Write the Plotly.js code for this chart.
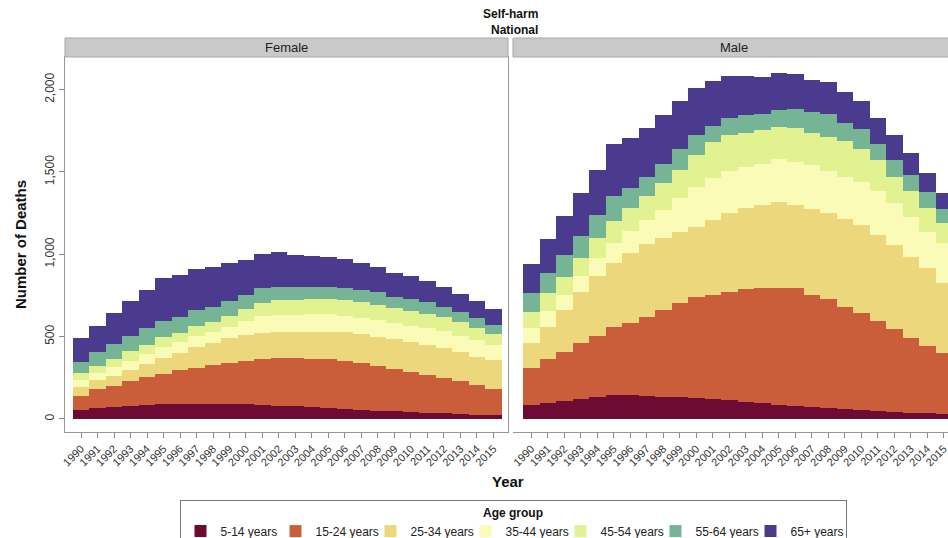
<!DOCTYPE html>
<html>
<head>
<meta charset="utf-8">
<script src="https://cdn.plot.ly/plotly-3.0.1.min.js"></script>
<style>
html, body { margin:0; padding:0; overflow:hidden; background:#fff; }
#chart { width:960px; height:538px; }
</style>
</head>
<body>
<div id="chart"></div>
<script>
const years = [1990,1991,1992,1993,1994,1995,1996,1997,1998,1999,2000,2001,2002,2003,2004,2005,2006,2007,2008,2009,2010,2011,2012,2013,2014,2015];
const ageGroups = ["5-14 years","15-24 years","25-34 years","35-44 years","45-54 years","55-64 years","65+ years"];
const colors = ["#6d0b34","#cb5e3a","#ecd77d","#fbfbb8","#e3f290","#75b596","#4b3b8e"];

// Female deaths by age group
const f5_14  = [55,65,71,77,85,89,92,93,93,92,89,85,81,77,71,65,61,55,51,47,43,38,34,30,26,24];
const f15_24 = [87,115,131,151,170,186,203,219,235,250,263,280,287,291,295,299,291,283,273,257,244,229,217,201,180,158];
const f25_34 = [54,57,58,70,80,95,105,123,132,148,158,160,160,158,164,166,174,176,176,182,183,182,178,178,172,176];
const f35_44 = [39,43,54,57,60,65,65,70,68,70,85,100,102,105,105,105,101,101,101,95,97,101,105,97,102,91];
const f45_54 = [42,44,50,55,57,65,60,60,62,65,70,80,92,92,94,94,96,93,91,91,89,85,87,85,75,65];
const f55_64 = [67,81,89,96,98,97,95,95,88,90,85,88,78,78,72,72,74,75,81,71,73,73,61,61,60,57];
const f65p   = [146,162,189,210,233,257,254,251,242,230,218,210,212,195,187,183,174,165,152,143,137,128,118,108,103,99];

// Male deaths by age group
const m5_14  = [85,99,111,123,132,144,144,140,136,132,125,119,113,105,95,85,79,71,65,59,54,49,44,39,34,30];
const m15_24 = [223,263,298,336,372,413,441,481,526,570,614,634,660,682,698,708,714,682,662,623,592,548,500,451,409,369];
const m25_34 = [151,195,253,314,366,393,425,439,438,433,426,455,476,492,506,527,506,522,522,532,532,520,512,496,472,429];
const m35_44 = [91,101,91,95,105,117,130,150,170,205,246,253,257,253,247,259,263,267,257,257,262,267,253,243,222,239];
const m45_54 = [102,105,111,107,125,133,140,145,160,172,189,219,219,202,209,196,203,192,208,217,200,189,162,155,146,121];
const m55_64 = [111,121,131,135,140,152,121,116,116,128,125,98,105,112,95,101,117,128,136,107,120,95,102,97,93,87];
const m65p   = [178,209,238,264,274,318,305,296,300,289,287,277,255,237,224,224,213,198,195,188,172,158,149,132,118,97];

const femaleSeries = [f5_14,f15_24,f25_34,f35_44,f45_54,f55_64,f65p];
const maleSeries = [m5_14,m15_24,m25_34,m35_44,m45_54,m55_64,m65p];

const traces = [];
ageGroups.forEach((g, i) => {
  traces.push({
    type:'bar', x:years, y:femaleSeries[i], name:g, legendgroup:g,
    marker:{color:colors[i], line:{width:0}}, xaxis:'x', yaxis:'y', showlegend:true
  });
});
ageGroups.forEach((g, i) => {
  traces.push({
    type:'bar', x:years, y:maleSeries[i], name:g, legendgroup:g,
    marker:{color:colors[i], line:{width:0}}, xaxis:'x2', yaxis:'y', showlegend:false
  });
});

const W = 960, H = 538;
const ml = 65, mr = 4, mt = 57, mb = 106;
const pw = W - ml - mr, ph = H - mt - mb;
const px = v => (v - ml) / pw;       // page x -> paper x
const py = v => (H - mb - v) / ph;   // page y -> paper y

const font = 'Liberation Sans, Arial, sans-serif';
const narrow = 'Liberation Sans Narrow, Arial Narrow, Liberation Sans, Arial, sans-serif';

const xCommon = {
  tickmode:'array', tickvals:years, ticktext:years.map(String),
  tickangle:-45, ticks:'outside', ticklen:5, tickcolor:'#888',
  showline:true, linecolor:'#999', linewidth:1, mirror:true,
  showgrid:false, zeroline:false,
  tickfont:{family:font, size:11, color:'#333'}
};

const layout = {
  width:W, height:H,
  margin:{l:ml, r:mr, t:mt, b:mb, autoexpand:false},
  paper_bgcolor:'#fff', plot_bgcolor:'#fff',
  barmode:'stack', bargap:0,
  font:{family:font, color:'#222'},
  xaxis:Object.assign({}, xCommon, {domain:[0, px(508)], range:[1989.03, 2015.88]}),
  xaxis2:Object.assign({}, xCommon, {domain:[px(513), 1], range:[1988.89, 2015.74], anchor:'y'}),
  yaxis:{
    range:[-79, 2198], tickvals:[0,500,1000,1500,2000], ticktext:['0','500','1,000','1,500','2,000'],
    tickangle:-90, ticks:'outside', ticklen:5, tickcolor:'#888',
    showline:true, linecolor:'#999', linewidth:1, mirror:true,
    showgrid:false, zeroline:false,
    tickfont:{family:font, size:12, color:'#333'},
    title:{text:'<b>Number of Deaths</b>', font:{family:font, size:15, color:'#111'}, standoff:12}
  },
  showlegend:true,
  legend:{
    orientation:'h', x:px(513), xanchor:'center', y:py(500), yanchor:'top',
    bordercolor:'#777', borderwidth:1, bgcolor:'#fff',
    font:{family:font, size:12, color:'#222'},
    title:{text:'<b>Age group</b>', side:'top center', font:{family:font, size:12, color:'#111'}},
    traceorder:'normal', entrywidth:50, itemwidth:30, tracegroupgap:0
  },
  shapes:[
    {type:'rect', xref:'paper', yref:'paper', x0:0, x1:px(508), y0:1, y1:py(38),
     fillcolor:'#c9c9c9', line:{color:'#a8a8a8', width:1}, layer:'above'},
    {type:'rect', xref:'paper', yref:'paper', x0:px(513), x1:1, y0:1, y1:py(38),
     fillcolor:'#c9c9c9', line:{color:'#a8a8a8', width:1}, layer:'above'}
  ],
  annotations:[
    {xref:'paper', yref:'paper', x:px(286), y:py(47.5), text:'Female', showarrow:false,
     font:{family:narrow, size:13, color:'#222'}, xanchor:'center', yanchor:'middle'},
    {xref:'paper', yref:'paper', x:px(734), y:py(47.5), text:'Male', showarrow:false,
     font:{family:narrow, size:13, color:'#222'}, xanchor:'center', yanchor:'middle'},
    {xref:'paper', yref:'paper', x:px(540), y:py(5), text:'<b>Self-harm</b><br><b>National</b>', showarrow:false,
     align:'right', xanchor:'right', yanchor:'top', font:{family:narrow, size:12, color:'#111'}},
    {xref:'paper', yref:'paper', x:px(508), y:py(481), text:'<b>Year</b>', showarrow:false,
     xanchor:'center', yanchor:'middle', font:{family:font, size:15, color:'#111'}}
  ]
};

Plotly.newPlot('chart', traces, layout, {displayModeBar:false, staticPlot:true});
</script>
</body>
</html>
